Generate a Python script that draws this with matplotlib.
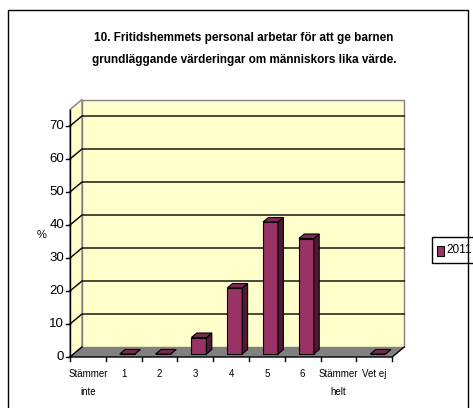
import numpy as np
import matplotlib
matplotlib.use("Agg")
import matplotlib.pyplot as plt
from matplotlib.patches import Polygon, Rectangle

# data
categories = ["Stämmer\ninte", "1", "2", "3", "4", "5", "6", "Stämmer\nhelt", "Vet ej"]
values_2011 = [np.nan, 0, 0, 5, 20, 40, 35, np.nan, 0]
yticks = [0, 10, 20, 30, 40, 50, 60, 70]
series_name = "2011"
title = ("10. Fritidshemmets personal arbetar för att ge barnen\n"
         "grundläggande värderingar om människors lika värde.")

FONT = ["Liberation Sans", "DejaVu Sans"]
BAR = "#993366"
BAR_SIDE = "#4d1a33"
BAR_TOP = "#7a2952"
WALL = "#ffffcc"
FLOOR = "#808080"

# pixel geometry of the excel-like 3d plot
W, H = 473, 408
X0, XSTEP = 70, 35.8      # px of category 0 edge, px per category
Y0, YSTEP = 357, 3.3      # px of value 0 (from top), px per unit
YMAX = 75

fig = plt.figure(figsize=(W / 100, H / 100), dpi=100)
ax = fig.add_axes([0, 0, 1, 1])
ax.set_xlim(-X0 / XSTEP, (W - X0) / XSTEP)
ax.set_ylim(-(H - Y0) / YSTEP, Y0 / YSTEP)
ax.axis("off")

px = lambda p: p / XSTEP
py = lambda p: p / YSTEP
DX, DY = px(12), py(10)
n = len(categories)

# walls and floor
ax.add_patch(Polygon([(DX, DY), (n + DX, DY), (n + DX, YMAX + DY), (DX, YMAX + DY)],
                     closed=True, fc=WALL, ec=FLOOR, lw=1, zorder=1))
ax.add_patch(Polygon([(0, 0), (DX, DY), (DX, YMAX + DY), (0, YMAX)],
                     closed=True, fc=WALL, ec=FLOOR, lw=1, zorder=1))
for v in yticks[1:]:
    ax.plot([0, DX, n + DX], [v, v + DY, v + DY], color="black", lw=1, zorder=2)
ax.add_patch(Polygon([(0, 0), (n, 0), (n + DX, DY), (DX, DY)],
                     closed=True, fc=FLOOR, ec="none", zorder=2))

# bars
hw, t0, t1 = 0.21, 0.3, 0.75
for i, v in enumerate(values_2011):
    if np.isnan(v):
        continue
    xl = i + 0.5 - hw + t0 * DX
    xr = i + 0.5 + hw + t0 * DX
    yb = t0 * DY
    ddx, ddy = (t1 - t0) * DX, (t1 - t0) * DY
    kw = dict(closed=True, ec="black", lw=0.8, zorder=4)
    ax.add_patch(Polygon([(xl, yb), (xr, yb), (xr, yb + v), (xl, yb + v)], fc=BAR, **kw))
    ax.add_patch(Polygon([(xr, yb), (xr + ddx, yb + ddy), (xr + ddx, yb + v + ddy),
                          (xr, yb + v)], fc=BAR_SIDE, **kw))
    ax.add_patch(Polygon([(xl, yb + v), (xr, yb + v), (xr + ddx, yb + v + ddy),
                          (xl + ddx, yb + v + ddy)], fc=BAR_TOP, **kw))

# axes lines and ticks
ax.plot([0, 0], [0, YMAX], color="black", lw=1, zorder=5)
ax.plot([0, n, n + DX], [0, 0, DY], color="black", lw=1, zorder=5)
ax.plot([0, DX], [0, DY], color="black", lw=1, zorder=5)
for v in yticks:
    ax.plot([-px(4), 0], [v, v], color="black", lw=1, zorder=5)
    ax.text(-px(6), v, str(v), ha="right", va="center", fontsize=9.5, family=FONT)
for i in range(n + 1):
    ax.plot([i, i], [0, -py(4)], color="black", lw=1, zorder=5)
for i, lab in enumerate(categories):
    ax.text(i + 0.5, -py(12), lab, ha="center", va="top", fontsize=7,
            family=FONT, linespacing=2.0)
ax.text(px(42 - X0), py(Y0 - 235), "%", ha="center", va="center", fontsize=8, family=FONT)

# title
fig.text(244 / W, 1 - 49 / H, title, ha="center", va="center", fontsize=8.5,
         fontweight="bold", family=FONT, linespacing=2.1)

# legend (partly cut off at the right edge)
fig.patches.append(Rectangle((432 / W, 1 - 263 / H), 60 / W, 26 / H, transform=fig.transFigure,
                             fill=False, ec="black", lw=1))
fig.patches.append(Rectangle((437 / W, 1 - 256 / H), 7 / W, 10 / H, transform=fig.transFigure,
                             fc=BAR, ec="black", lw=0.8))
fig.text(446 / W, 1 - 250 / H, series_name, ha="left", va="center", fontsize=8.5, family=FONT)

# outer chart border
fig.patches.append(Rectangle((8 / W, -0.05), 460 / W, 1.05 - 10 / H, transform=fig.transFigure,
                             fill=False, ec="black", lw=1))

fig.savefig("out.png", dpi=100)
